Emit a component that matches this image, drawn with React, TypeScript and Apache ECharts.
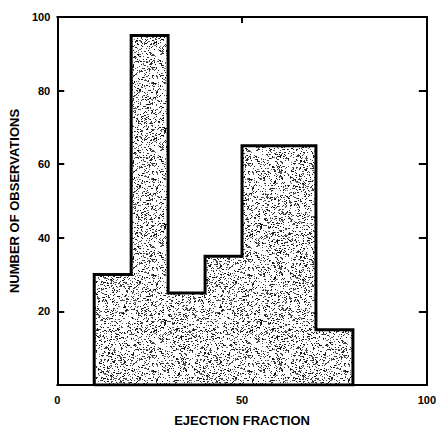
import React, { useEffect, useRef } from "react";
import * as echarts from "echarts";

const binStarts = [10, 20, 30, 40, 50, 60, 70];
const binEnds = [20, 30, 40, 50, 60, 70, 80];
const counts = [30, 95, 25, 35, 65, 65, 15];
const xTicks = [0, 50, 100];
const yTicks = [20, 40, 60, 80, 100];

function makeStipple(): HTMLCanvasElement {
  const size = 96;
  const c = document.createElement("canvas");
  c.width = size;
  c.height = size;
  const ctx = c.getContext("2d")!;
  ctx.fillStyle = "#ffffff";
  ctx.fillRect(0, 0, size, size);
  let seed = 12345;
  const rnd = () => {
    seed = (seed * 1103515245 + 12345) & 0x7fffffff;
    return seed / 0x7fffffff;
  };
  for (let i = 0; i < 1900; i++) {
    const x = Math.floor(rnd() * size);
    const y = Math.floor(rnd() * size);
    const g = Math.floor(rnd() * 110);
    ctx.fillStyle = `rgb(${g},${g},${g})`;
    const w = rnd() < 0.2 ? 2 : 1;
    ctx.fillRect(x, y, w, 1);
  }
  return c;
}

export default function App() {
  const ref = useRef<HTMLDivElement>(null);
  useEffect(() => {
    if (!ref.current) return;
    const chart = echarts.init(ref.current, undefined, { renderer: "svg" });
    const pattern = { image: makeStipple(), repeat: "repeat" } as any;

    const bins = binStarts.map((s, i) => [s, binEnds[i], counts[i]]);
    const outline: number[][] = [[binStarts[0], 0]];
    binStarts.forEach((s, i) => {
      outline.push([s, counts[i]]);
      outline.push([binEnds[i], counts[i]]);
    });
    outline.push([binEnds[binEnds.length - 1], 0]);
    outline.push([binStarts[0], 0]);

    const font = "'Liberation Sans', Arial, sans-serif";
    const lineStyle = { color: "#000", width: 2 };

    chart.setOption({
      animation: false,
      backgroundColor: "#fff",
      grid: { left: 57, right: 11, top: 17, bottom: 41, containLabel: false },
      xAxis: [
        {
          type: "value",
          min: 0,
          max: 100,
          interval: 50,
          position: "bottom",
          axisLine: { show: true, onZero: false, lineStyle },
          axisTick: { show: false },
          splitLine: { show: false },
          axisLabel: {
            color: "#000",
            fontFamily: font,
            fontWeight: "bold",
            fontSize: 11,
            margin: 9,
            formatter: (v: number) => (xTicks.includes(v) ? String(v) : ""),
          },
          name: "EJECTION FRACTION",
          nameLocation: "middle",
          nameGap: 29,
          nameTextStyle: { color: "#000", fontFamily: font, fontWeight: "bold", fontSize: 13 },
        },
        {
          type: "value",
          min: 0,
          max: 100,
          interval: 50,
          position: "top",
          axisLine: { show: true, onZero: false, lineStyle },
          axisTick: { show: true, inside: true, length: 6, lineStyle },
          splitLine: { show: false },
          axisLabel: { show: false },
        },
      ],
      yAxis: [
        {
          type: "value",
          min: 0,
          max: 100,
          interval: 20,
          position: "left",
          axisLine: { show: true, onZero: false, lineStyle },
          axisTick: { show: true, inside: true, length: 7, lineStyle },
          splitLine: { show: false },
          axisLabel: {
            color: "#000",
            fontFamily: font,
            fontWeight: "bold",
            fontSize: 11,
            margin: 7,
            formatter: (v: number) => (yTicks.includes(v) ? String(v) : ""),
          },
          name: "NUMBER OF OBSERVATIONS",
          nameLocation: "middle",
          nameGap: 36,
          nameTextStyle: { color: "#000", fontFamily: font, fontWeight: "bold", fontSize: 13 },
        },
        {
          type: "value",
          min: 0,
          max: 100,
          interval: 20,
          position: "right",
          axisLine: { show: true, onZero: false, lineStyle },
          axisTick: { show: true, inside: true, length: 8, lineStyle },
          splitLine: { show: false },
          axisLabel: { show: false },
        },
      ],
      series: [
        {
          type: "custom",
          xAxisIndex: 0,
          yAxisIndex: 0,
          data: bins,
          renderItem: (params: any, api: any) => {
            const p0 = api.coord([api.value(0), api.value(2)]);
            const p1 = api.coord([api.value(1), 0]);
            return {
              type: "rect",
              shape: { x: p0[0], y: p0[1], width: p1[0] - p0[0] + 0.5, height: p1[1] - p0[1] },
              style: { fill: pattern, stroke: null },
            };
          },
          z: 2,
        },
        {
          type: "line",
          xAxisIndex: 0,
          yAxisIndex: 0,
          data: outline,
          symbol: "none",
          lineStyle: { color: "#000", width: 3, join: "miter" },
          z: 3,
        },
      ],
    });
    return () => chart.dispose();
  }, []);
  return (
    <div
      ref={ref}
      style={{ position: "fixed", left: 0, top: 0, width: 439, height: 432, background: "#fff" }}
    />
  );
}
